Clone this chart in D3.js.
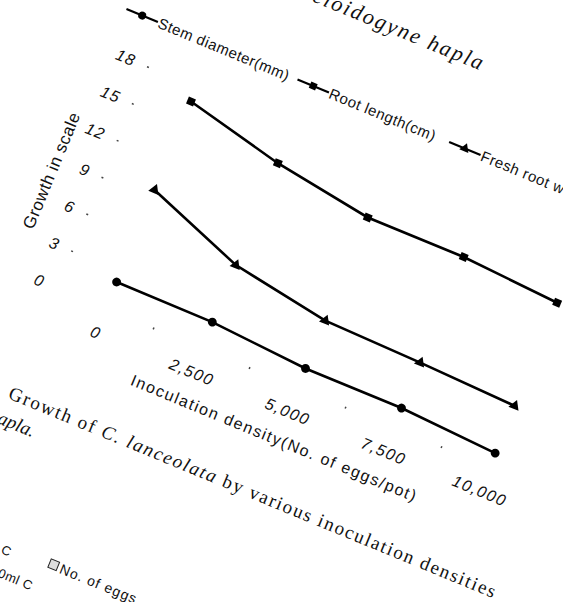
<!DOCTYPE html>
<html>
<head>
<meta charset="utf-8">
<script src="https://cdn.jsdelivr.net/npm/d3@7"></script>
<style>
body { margin: 0; background: #fff; }
svg { display: block; background: #fff; }
</style>
</head>
<body>
<div id="chart"></div>
<script>
// values
var categories = ["0", "2,500", "5,000", "7,500", "10,000"];
var stemDiameter = [2.1, 2.05, 1.5, 1.5, 1.05];
var rootLength = [16.8, 15.0, 13.8, 13.8, 13.3];
var freshRootWeight = [9.6, 6.7, 5.4, 5.2, 4.9];
var yTicks = [0, 3, 6, 9, 12, 15, 18];
var seriesNames = ["Stem diameter(mm)", "Root length(cm)", "Fresh root weight(g)"];

var width = 563, height = 602;
var plotW = 519, plotH = 239;
//the scan is turned by ~22 degrees, the whole plot is drawn in a rotated group
var angle = 22.4;
var origin = [58, 288];

var sans = "'Liberation Sans', Arial, sans-serif";
var serif = "'Liberation Serif', 'Times New Roman', serif";

var svg = d3.select("#chart").append("svg")
    .attr("width", width)
    .attr("height", height);

var g = svg.append("g")
    .attr("transform", "translate(" + origin[0] + "," + origin[1] + ") rotate(" + angle + ")");

var x = d3.scaleBand().domain(categories).range([0, plotW]).padding(0);
var y = d3.scaleLinear().domain([0, 18]).range([0, -plotH]);

var series = [
    {name: seriesNames[0], symbol: d3.symbolCircle, size: 62, values: stemDiameter},
    {name: seriesNames[1], symbol: d3.symbolSquare, size: 58, values: rootLength},
    {name: seriesNames[2], symbol: d3.symbolTriangle, size: 52, values: freshRootWeight}
];

drawAxes();
drawSeries();
drawLegend();
drawTexts();

function drawAxes()
{
    //y axis: only small tick dots are left in the scan, no axis line
    var yAxis = d3.axisLeft(y).tickValues(yTicks).tickSize(2).tickPadding(13);
    var ya = g.append("g").call(yAxis);
    ya.select(".domain").remove();
    ya.selectAll(".tick line").attr("stroke", "#444").attr("stroke-width", 1.5);
    ya.selectAll(".tick line").filter(function(d) { return d === 0; }).remove();
    ya.selectAll("text")
        .attr("font-family", sans)
        .attr("font-style", "italic")
        .attr("font-size", 16)
        .attr("letter-spacing", 1.2)
        .attr("fill", "#111");

    //x labels sit at the category centres
    var xAxis = d3.axisBottom(x).tickSize(0).tickPadding(21);
    var xa = g.append("g").call(xAxis);
    xa.select(".domain").remove();
    xa.selectAll("text")
        .attr("font-family", sans)
        .attr("font-style", "italic")
        .attr("font-size", 16)
        .attr("letter-spacing", 1.4)
        .attr("fill", "#111");

    //x tick dots between categories
    g.selectAll(".xdot")
        .data(d3.range(1, categories.length))
        .enter()
        .append("line")
        .attr("class", "xdot")
        .attr("x1", function(i) { return x.step() * i; })
        .attr("x2", function(i) { return x.step() * i; })
        .attr("y1", 0)
        .attr("y2", 2)
        .attr("stroke", "#444")
        .attr("stroke-width", 1.5);

    g.append("text")
        .attr("x", x.step() * 2.47)
        .attr("y", 62)
        .attr("text-anchor", "middle")
        .attr("font-family", sans)
        .attr("font-size", 16)
        .attr("textLength", 307)
        .attr("lengthAdjust", "spacing")
        .attr("fill", "#111")
        .text("Inoculation density(No. of eggs/pot)");

    g.append("text")
        .attr("transform", "translate(-45," + y(8) + ") rotate(-90)")
        .attr("text-anchor", "middle")
        .attr("font-family", sans)
        .attr("font-size", 17)
        .attr("letter-spacing", 0.5)
        .attr("fill", "#111")
        .text("Growth in scale");
}

function drawSeries()
{
    var line = d3.line()
        .x(function(d, i) { return x(categories[i]) + x.bandwidth() / 2; })
        .y(function(d) { return y(d); });

    series.forEach(function(s)
    {
        g.append("path")
            .datum(s.values)
            .attr("d", line)
            .attr("fill", "none")
            .attr("stroke", "#000")
            .attr("stroke-width", 2.6);

        g.selectAll(null)
            .data(s.values)
            .enter()
            .append("path")
            .attr("d", d3.symbol().type(s.symbol).size(s.size))
            .attr("transform", function(d, i) {
                return "translate(" + (x(categories[i]) + x.bandwidth() / 2) + "," + y(d) + ")";
            })
            .attr("fill", "#000");
    });
}

function drawLegend()
{
    var legendY = -284;
    var markerX = [-26, 159, 323];
    var items = g.selectAll(".legend")
        .data(series)
        .enter()
        .append("g")
        .attr("class", "legend")
        .attr("transform", function(d, i) { return "translate(" + markerX[i] + "," + legendY + ")"; });
    items.append("line")
        .attr("x1", -17).attr("x2", 17)
        .attr("stroke", "#000")
        .attr("stroke-width", 2.2);
    items.append("path")
        .attr("d", function(d) { return d3.symbol().type(d.symbol).size(d.size * 0.8)(); })
        .attr("fill", "#000");
    items.append("text")
        .attr("x", 18)
        .attr("dy", "0.35em")
        .attr("font-family", sans)
        .attr("font-size", 15)
        .attr("letter-spacing", 0.5)
        .attr("fill", "#111")
        .text(function(d) { return d.name; });
}

//pieces of the printed page that show up around the plot
function drawTexts()
{
    g.append("text")
        .attr("x", 309)
        .attr("y", -362)
        .attr("text-anchor", "end")
        .attr("font-family", serif)
        .attr("font-style", "italic")
        .attr("font-size", 22)
        .attr("letter-spacing", 2)
        .attr("fill", "#111")
        .text("Meloidogyne  hapla");

    var cap = g.append("text")
        .attr("x", -5)
        .attr("y", 121)
        .attr("font-family", serif)
        .attr("font-size", 19)
        .attr("fill", "#111")
        .attr("textLength", 525)
        .attr("lengthAdjust", "spacing");
    cap.append("tspan").text("Growth of ");
    cap.append("tspan").attr("font-style", "italic").text("C. lanceolata");
    cap.append("tspan").text(" by various inoculation densities");

    var cap2 = g.append("text")
        .attr("x", 33)
        .attr("y", 148)
        .attr("text-anchor", "end")
        .attr("font-family", serif)
        .attr("font-size", 19)
        .attr("fill", "#111");
    cap2.append("tspan").text("of ");
    cap2.append("tspan").attr("font-style", "italic").text("M. hapla.");

    g.append("text")
        .attr("x", 57).attr("y", 267)
        .attr("text-anchor", "end")
        .attr("font-family", sans).attr("font-size", 13).attr("fill", "#111")
        .text("C");
    g.append("text")
        .attr("x", 90).attr("y", 290)
        .attr("text-anchor", "end")
        .attr("font-family", sans).attr("font-size", 13).attr("letter-spacing", 0.5).attr("fill", "#111")
        .text("0ml C");
    g.append("rect")
        .attr("x", 97).attr("y", 253)
        .attr("width", 9).attr("height", 9)
        .attr("fill", "#ddd").attr("stroke", "#222");
    g.append("text")
        .attr("x", 109).attr("y", 263)
        .attr("font-family", sans).attr("font-size", 14).attr("letter-spacing", 1).attr("fill", "#111")
        .text("No. of eggs");
}
</script>
</body>
</html>
